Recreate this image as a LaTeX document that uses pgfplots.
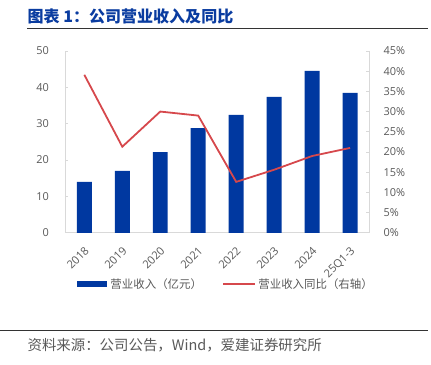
\documentclass[border=0pt]{standalone}
\usepackage{pgfplots}
\pgfplotsset{compat=1.18}
\usepackage{fontspec}
\setmainfont{Open Sans}
\newfontfamily\cjk{Noto Sans CJK SC}
\definecolor{barblue}{RGB}{0,56,160}
\definecolor{linered}{RGB}{214,72,76}
\definecolor{titleblue}{RGB}{10,60,160}
\definecolor{axgray}{RGB}{217,217,217}
\definecolor{txtgray}{RGB}{89,89,89}
\begin{document}
\begin{tikzpicture}[x=1bp,y=1bp]
\path (0,0) rectangle (431,365);
% title
\node[anchor=base west,inner sep=0,font=\cjk\bfseries\fontsize{16.1}{18}\selectfont,text=titleblue] at (27,365-23) {图表 1：公司营业收入及同比};
\draw[black!80,line width=1bp] (27,365-29) -- (428,365-29);
\draw[black!80,line width=0.8bp] (0,365-331) -- (428,365-331);
\node[anchor=base west,inner sep=0,font=\cjk\fontsize{14.5}{16}\selectfont,text=txtgray] at (27,365-351) {资料来源：公司公告，Wind，爱建证券研究所};
\begin{axis}[
  at={(65bp,132bp)}, anchor=south west,
  width=304bp, height=182bp, scale only axis,
  xmin=-0.5, xmax=7.5, ymin=0, ymax=50,
  ytick={0,10,...,50},
  xtick={0,...,7},
  xticklabels={2018,2019,2020,2021,2022,2023,2024,25Q1-3},
  x tick label style={yshift=-11.5bp,xshift=-0.5bp,rotate=45,anchor=north east,inner sep=1bp,font=\fontsize{11.2}{12}\selectfont,text=txtgray},
  y tick label style={font=\fontsize{11}{12}\selectfont,text=txtgray,xshift=-13bp},
  /pgf/number format/assume math mode=true,
  axis x line*=bottom, axis y line*=left,
  axis line style={axgray,line width=0.8bp},
  major tick style={axgray,line width=0.8bp},
  major tick length=3bp,
  xtick style={draw=none},
  tick align=inside,
]
\addplot[ybar,bar width=15bp,fill=barblue,draw=none] coordinates {(0,14.0) (1,17.0) (2,22.2) (3,28.8) (4,32.4) (5,37.4) (6,44.5) (7,38.5)};
\end{axis}
\begin{axis}[
  at={(65bp,132bp)}, anchor=south west,
  width=304bp, height=182bp, scale only axis,
  xmin=-0.5, xmax=7.5, ymin=0, ymax=45,
  ytick={0,5,...,45},
  yticklabel={\pgfmathprintnumber{\tick}\%},
  y tick label style={font=\fontsize{11}{12}\selectfont,text=txtgray,xshift=11bp},
  /pgf/number format/assume math mode=true,
  axis y line*=right, axis x line=none,
  axis line style={axgray,line width=0.8bp},
  major tick style={axgray,line width=0.8bp},
  major tick length=3bp,
  tick align=inside,
]
\addplot[linered,line width=1.8bp,mark=none] coordinates {(0,39.1) (1,21.3) (2,30.0) (3,29.0) (4,12.6) (5,15.6) (6,19.0) (7,21.0)};
\end{axis}
% legend
\fill[barblue] (77,365-287) rectangle (107,365-281);
\node[anchor=west,inner sep=0,font=\cjk\fontsize{11.5}{13}\selectfont,text=txtgray] at (110,365-284) {营业收入（亿元）};
\draw[linered,line width=1.8bp] (223,365-284) -- (255,365-284);
\node[anchor=west,inner sep=0,font=\cjk\fontsize{11.5}{13}\selectfont,text=txtgray] at (258,365-284) {营业收入同比（右轴）};
\end{tikzpicture}
\end{document}
